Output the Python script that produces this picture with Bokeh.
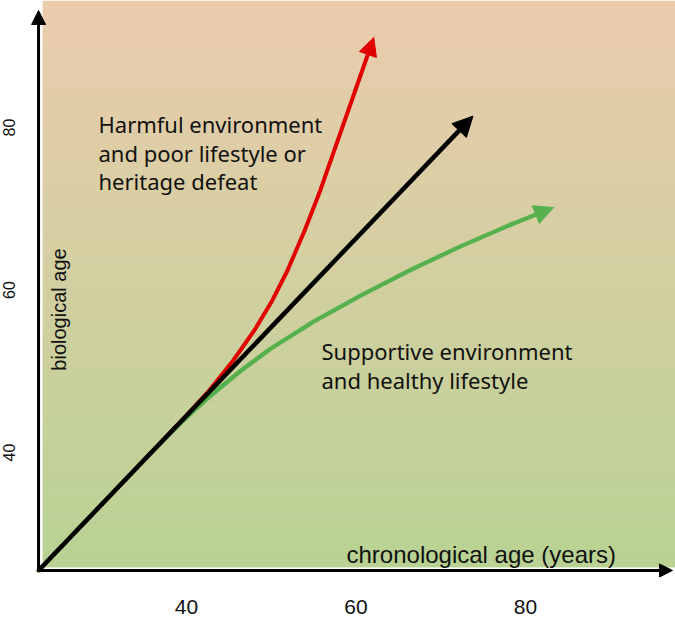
import numpy as np
from bokeh.plotting import figure
from bokeh.models import Range1d, Arrow, NormalHead, ColumnDataSource
from bokeh.core.properties import value
from bokeh.embed import file_html
from bokeh.resources import INLINE

# --- data: chronological age (x) vs biological age (y) -------------------
red_x = [22.54, 31.00, 39.46, 42.67, 45.51, 48.00, 50.12, 51.91, 53.94, 55.78, 57.84, 59.91, 62.10]
red_y = [25.48, 34.71, 43.94, 47.63, 51.32, 55.02, 58.71, 62.40, 67.32, 72.25, 78.40, 84.55, 91.08]

green_x = [22.54, 29.14, 35.75, 39.29, 42.83, 46.37, 49.91, 54.99, 60.53, 66.43, 72.33, 78.23, 83.30]
green_y = [25.48, 32.69, 39.90, 43.61, 46.98, 50.03, 52.76, 56.11, 59.30, 62.46, 65.37, 68.04, 70.14]

black_x = [22.54, 73.8]
black_y = [25.48, 81.4]

x_ticks = [40, 60, 80]
x_tick_labels = ["40", "60", "80"]
y_ticks = [40, 60, 80]
y_tick_labels = ["40", "60", "80"]

harmful_lines = ["Harmful environment", "and poor lifestyle or", "heritage defeat"]
supportive_lines = ["Supportive environment", "and healthy lifestyle"]

# --- scales ---------------------------------------------------------------
W, H = 675, 617
X_PX = 8.475   # pixels per year on x
Y_PX = 8.125   # pixels per year on y
x0, y0 = 18.05, 19.69
x_range = Range1d(x0, x0 + W / X_PX)
y_range = Range1d(y0, y0 + H / Y_PX)

RED = "#E00000"
GREEN = "#55B04E"
BLACK = "#000000"
TEXT = "#111111"

p = figure(width=W, height=H, x_range=x_range, y_range=y_range,
           output_backend="svg", toolbar_location=None,
           x_axis_type=None, y_axis_type=None, min_border=0)
p.outline_line_color = None
p.background_fill_color = "white"
p.border_fill_color = "white"

# vertical gradient background (peach on top, green at the bottom)
top = np.array([236, 204, 174])
bottom = np.array([185, 211, 148])
n = 400
t = np.linspace(0, 1, n)[:, None]
rgb = (bottom * (1 - t) + top * t).astype(np.uint32)
img = np.empty((n, 2), dtype=np.uint32)
view = img.view(dtype=np.uint8).reshape((n, 2, 4))
view[:, :, 0] = rgb[:, 0:1]
view[:, :, 1] = rgb[:, 1:2]
view[:, :, 2] = rgb[:, 2:3]
view[:, :, 3] = 255
bg_left = black_x[0] + 4 / X_PX
bg_bottom = black_y[0] + 3 / Y_PX
p.image_rgba(image=[img], x=bg_left, y=bg_bottom,
             dw=x_range.end - bg_left, dh=y_range.end - bg_bottom)

# axes drawn as arrows from the origin
ox, oy = black_x[0], black_y[0]
p.add_layout(Arrow(x_start=ox, y_start=oy - 1 / Y_PX, x_end=ox, y_end=y_range.end - 10 / Y_PX,
                   line_color=BLACK, line_width=3,
                   end=NormalHead(size=14, fill_color=BLACK, line_color=BLACK)))
p.add_layout(Arrow(x_start=ox - 1 / X_PX, y_start=oy, x_end=x_range.end - 3 / X_PX, y_end=oy,
                   line_color=BLACK, line_width=3,
                   end=NormalHead(size=13, fill_color=BLACK, line_color=BLACK)))


def trajectory(xs, ys, color, width, head):
    src = ColumnDataSource(dict(x=xs[:-1], y=ys[:-1]))
    p.line("x", "y", source=src, line_color=color, line_width=width,
           line_join="round", line_cap="round")
    p.add_layout(Arrow(x_start=xs[-2], y_start=ys[-2], x_end=xs[-1], y_end=ys[-1],
                       line_color=color, line_width=width, line_cap="round",
                       end=NormalHead(size=head, fill_color=color, line_color=color)))


trajectory(red_x, red_y, RED, 4, 18)
trajectory(green_x, green_y, GREEN, 4.3, 19)
p.add_layout(Arrow(x_start=black_x[0], y_start=black_y[0], x_end=black_x[1], y_end=black_y[1],
                   line_color=BLACK, line_width=4.5,
                   end=NormalHead(size=20, fill_color=BLACK, line_color=BLACK)))

# tick labels
p.text(x=x_ticks, y=[y0 + 11 / Y_PX] * 3, text=x_tick_labels,
       text_font=value("Liberation Sans"), text_font_size="21px",
       text_color=TEXT, text_align="center", text_baseline="middle")
p.text(x=[x0 + 8.5 / X_PX] * 3, y=y_ticks, text=y_tick_labels, angle=np.pi / 2,
       text_font=value("Liberation Sans"), text_font_size="16px",
       text_color=TEXT, text_align="center", text_baseline="middle")

# axis titles
p.text(x=[x0 + 58 / X_PX], y=[y0 + (H - 309) / Y_PX], text=["biological age"], angle=np.pi / 2,
       text_font=value("Liberation Sans"), text_font_size="20px",
       text_color=TEXT, text_align="center", text_baseline="middle")
p.text(x=[x0 + 346 / X_PX], y=[y0 + (H - 554) / Y_PX], text=["chronological age (years)"],
       text_font=value("Liberation Sans"), text_font_size="24px",
       text_color=TEXT, text_align="left", text_baseline="alphabetic")

# annotations
line_step = 28.7 / Y_PX
hx, hy = x0 + 98 / X_PX, y0 + (H - 123.3) / Y_PX
p.text(x=[hx] * len(harmful_lines), y=[hy - i * line_step for i in range(len(harmful_lines))],
       text=harmful_lines, text_font=value("Noto Sans"), text_font_size="22px",
       text_color=TEXT, text_align="left", text_baseline="alphabetic")
sx, sy = x0 + 321 / X_PX, y0 + (H - 350.5) / Y_PX
p.text(x=[sx] * len(supportive_lines), y=[sy - i * line_step for i in range(len(supportive_lines))],
       text=supportive_lines, text_font=value("Noto Sans"), text_font_size="22px",
       text_color=TEXT, text_align="left", text_baseline="alphabetic")

open("out.html", "w").write(file_html(p, INLINE))
